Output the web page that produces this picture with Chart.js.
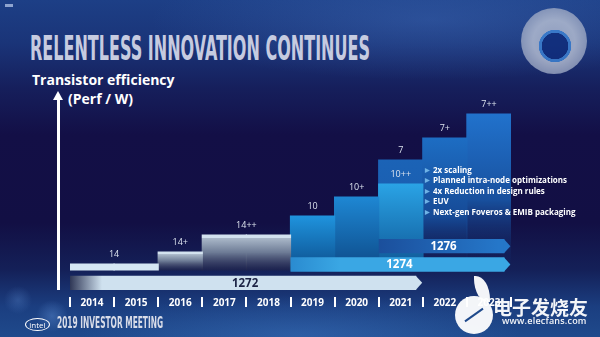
<!DOCTYPE html>
<html>
<head>
<meta charset="utf-8">
<title>Relentless Innovation Continues</title>
<style>
  html, body { margin: 0; padding: 0; }
  body {
    width: 600px; height: 337px; overflow: hidden; position: relative;
    font-family: "Open Sans", sans-serif; color: #fff;
    background:
      radial-gradient(circle at 52px 316px, rgba(110,160,230,0.35) 0, rgba(110,160,230,0) 16px),
      radial-gradient(circle at 18px 300px, rgba(110,160,230,0.25) 0, rgba(110,160,230,0) 14px),
      radial-gradient(ellipse 220px 40px at 300px 335px, rgba(70,130,210,0.35), rgba(0,0,0,0)),
      radial-gradient(ellipse 280px 60px at 430px 20px, rgba(80,130,210,0.30), rgba(0,0,0,0)),
      linear-gradient(to bottom, #1d3f86 0%, #1a3478 13%, #161f5c 26%, #130f46 40%, #120f44 66%, #142058 80%, #1b3e80 91%, #1f4a8c 100%);
  }
  canvas { position: absolute; left: 0; top: 0; }
  .abs { position: absolute; white-space: nowrap; }
  #title {
    left: 30px; top: 31px; font: bold 34px/34px "Liberation Sans Narrow", "DejaVu Sans Condensed", sans-serif;
    color: #c6cbe0; transform-origin: 0 0; display: inline-block;
  }
  #ytitle1 { left: 32px; top: 71px; font: bold 14px/18px "Open Sans", sans-serif; }
  #ytitle2 { left: 68px; top: 90px; font: bold 14px/18px "Open Sans", sans-serif; }
  #yline { left: 57px; top: 98px; width: 3px; height: 192px; background: #fff; }
  #yhead { left: 53px; top: 91px; width: 0; height: 0; border-left: 5.5px solid transparent; border-right: 5.5px solid transparent; border-bottom: 9px solid #fff; }
  #features { left: 425px; top: 165px; font: bold 8px/10.4px "Open Sans", sans-serif; color: #fff; }
  #features span { color: #6fb3e6; font-size: 6px; margin-right: 3px; vertical-align: 1px; }
  #disc {
    left: 521px; top: 8px; width: 66px; height: 66px; border-radius: 50%;
    background:
      radial-gradient(circle at 34px 38px, #0f2c7c 0, #0f2c7c 13px, #3f86d8 13.5px, #3f86d8 16px, rgba(0,0,0,0) 16.5px),
      radial-gradient(circle, #aab4cc 0, #bcc4d6 45%, #97a3c0 75%, #6f80ac 100%);
    opacity: 0.8;
  }
  #tag { left: 5px; top: 4px; width: 8px; height: 3px; background: #8fa4cf; }
  #intel { left: 25px; top: 318px; width: 23px; height: 11px; border: 1.3px solid #fff; border-radius: 50%;
    font: 8px/11px "Open Sans", sans-serif; text-align: center; color: #fff; }
  #meeting { left: 57px; top: 316px; font: bold 15px/15px "Liberation Sans Narrow", "DejaVu Sans Condensed", sans-serif;
    color: #d8dce8; transform-origin: 0 0; display: inline-block; }
  #wmlogo { left: 455px; top: 296px; width: 38px; height: 38px; border-radius: 50%; background: rgba(255,255,255,0.95); }
  #wmlogo2 { left: 474px; top: 276px; width: 16px; height: 26px; border-radius: 0 90% 0 90%; background: rgba(255,255,255,0.95); }
  #wmline { left: 463px; top: 314px; width: 22px; height: 2px; background: #1f4a8c; transform: rotate(-35deg); }
  #wmtext { left: 493px; top: 296px; font: bold 19px/22px "Noto Sans CJK SC", sans-serif; color: rgba(255,255,255,0.95); }
  #wmurl { left: 502px; top: 316px; font: 600 9px/10px "Open Sans", sans-serif; color: rgba(255,255,255,0.95); letter-spacing: 0.2px; }
</style>
</head>
<body>
  <div id="tag" class="abs"></div>
  <div id="title" class="abs">RELENTLESS INNOVATION CONTINUES</div>
  <div id="disc" class="abs"></div>
  <div id="ytitle1" class="abs">Transistor efficiency</div>
  <div id="ytitle2" class="abs">(Perf / W)</div>
  <div id="yline" class="abs"></div>
  <div id="yhead" class="abs"></div>

  <canvas id="steps" width="600" height="337"></canvas>
  <canvas id="lines" width="600" height="337"></canvas>

  <div id="features" class="abs"></div>

  <div id="intel" class="abs">intel</div>
  <div id="meeting" class="abs">2019 INVESTOR MEETING</div>
  <div id="wmlogo" class="abs"></div>
  <div id="wmlogo2" class="abs"></div>
  <div id="wmline" class="abs"></div>
  <div id="wmtext" class="abs">电子发烧友</div>
  <div id="wmurl" class="abs">www.elecfans.com</div>

  <script src="https://cdn.jsdelivr.net/npm/chart.js"></script>
  <script>
    // years on the x axis
    const years = ['2014', '2015', '2016', '2017', '2018', '2019', '2020', '2021', '2022', '2023'];

    // process nodes, relative transistor efficiency per year
    const nodeNames = ['14', '14+', '14++', '10', '10+', '10++', '7', '7+', '7++'];
    const node14   = [0.6, 0.6, null, null, null, null, null, null, null, null];
    const node14p  = [null, null, 1.8, null, null, null, null, null, null, null];
    const node14pp = [null, null, null, 3.5, 3.5, null, null, null, null, null];
    const node10   = [null, null, null, null, null, 5.4, null, null, null, null];
    const node10p  = [null, null, null, null, null, null, 7.3, null, null, null];
    const node10pp = [null, null, null, null, null, null, null, 8.6, null, null];
    const node7    = [null, null, null, null, null, null, null, 11.0, null, null];
    const node7p   = [null, null, null, null, null, null, null, null, 13.2, null];
    const node7pp  = [null, null, null, null, null, null, null, null, null, 15.6];
    const nodeData = [node14, node14p, node14pp, node10, node10p, node10pp, node7, node7p, node7pp];

    // process lines (arrows), spans in years
    const lineNames = ['1276', '1274', '1272'];
    const lineStart = [2020.5, 2018.5, 2013.5];
    const lineEnd   = [2023.35, 2023.35, 2021.35];

    const features = [
      '2x scaling',
      'Planned intra-node optimizations',
      '4x Reduction in design rules',
      'EUV',
      'Next-gen Foveros & EMIB packaging'
    ];

    // gradient stops for each node bar, top -> baseline
    const nodeStops = [
      [[0, '#d4e6f3'], [1, '#d4e6f3']],
      [[0, '#d3e2ef'], [0.12, '#d3e2ef'], [0.14, '#a9b7c8'], [0.5, '#6d7b95'], [1, 'rgba(35,38,75,0.6)']],
      [[0, '#d3e2ef'], [0.08, '#d3e2ef'], [0.1, '#a9b7c8'], [0.5, '#6d7b95'], [1, 'rgba(35,38,75,0.6)']],
      [[0, '#1f93dd'], [1, '#0c4f8e']],
      [[0, '#1e87d3'], [1, '#0d4a88']],
      [[0, '#2aa3e5'], [1, '#0e5594']],
      [[0, '#1b63b6'], [1, '#1a55a6']],
      [[0, '#1d6dc3'], [0.6, '#164a96'], [1, 'rgba(20,40,100,0)']],
      [[0, '#2172cc'], [0.55, '#18509e'], [1, 'rgba(20,40,100,0)']]
    ];
    const nodeOrder = [0, 0, 0, 0, 0, 0, 1, 0, 0];

    function vGrad(stops) {
      return (c) => {
        const chart = c.chart;
        if (!chart.chartArea || c.raw == null) return stops[0][1];
        const y = chart.scales.y;
        const g = chart.ctx.createLinearGradient(0, y.getPixelForValue(c.raw), 0, y.getPixelForValue(0));
        stops.forEach(s => g.addColorStop(s[0], s[1]));
        return g;
      };
    }

    const nodeLabels = {
      id: 'nodeLabels',
      afterDatasetsDraw(chart) {
        const ctx = chart.ctx;
        ctx.save();
        ctx.font = '9px "Open Sans"';
        ctx.fillStyle = '#dce3ee';
        ctx.textAlign = 'center';
        ctx.textBaseline = 'middle';
        chart.data.datasets.forEach((ds, i) => {
          const bars = chart.getDatasetMeta(i).data.filter((b, j) => ds.data[j] != null);
          if (!bars.length) return;
          const x = bars.reduce((s, b) => s + b.x, 0) / bars.length;
          const y = Math.min(...bars.map(b => b.y));
          ctx.fillText(ds.label, x, y - 9.5);
        });
        ctx.restore();
      }
    };

    new Chart(document.getElementById('steps'), {
      type: 'bar',
      data: {
        labels: years,
        datasets: nodeNames.map((name, i) => ({
          label: name,
          data: nodeData[i],
          order: nodeOrder[i],
          backgroundColor: vGrad(nodeStops[i]),
          borderWidth: 0,
          inflateAmount: 0.6
        }))
      },
      options: {
        responsive: false,
        animation: false,
        layout: { padding: { left: 70, right: 89, top: 90, bottom: 0 } },
        plugins: { legend: { display: false }, tooltip: { enabled: false } },
        datasets: { bar: { grouped: false, barPercentage: 1, categoryPercentage: 1 } },
        scales: {
          x: {
            grid: { display: true, drawOnChartArea: false, drawTicks: true, tickLength: 10, color: '#ffffff', lineWidth: 2, offset: true },
            border: { display: false },
            ticks: { color: '#ffffff', font: { family: 'Open Sans', size: 10, weight: 'bold' }, padding: -10, maxRotation: 0, autoSkip: false },
            afterFit(scale) { scale.height = 40; }
          },
          y: { display: false, min: -2.7, max: 18 }
        }
      },
      plugins: [nodeLabels]
    });

    // arrow styles: gradient from start over span px
    const lineStyles = [
      { from: '#1b4f9c', to: '#2577c9', span: 120, text: '#ffffff' },
      { from: '#2a8bd0', to: '#3aa7e4', span: 50, text: '#ffffff' },
      { from: '#2f3756', to: '#cfe1ef', span: 32, text: '#1b2244' }
    ];

    function hGrad(c) {
      const chart = c.chart;
      const st = lineStyles[c.dataIndex];
      if (!chart.chartArea) return st.to;
      const x0 = chart.scales.x.getPixelForValue(lineStart[c.dataIndex]);
      const g = chart.ctx.createLinearGradient(x0, 0, x0 + st.span, 0);
      g.addColorStop(0, st.from);
      g.addColorStop(1, st.to);
      return g;
    }

    const arrowTips = {
      id: 'arrowTips',
      afterDatasetsDraw(chart) {
        const ctx = chart.ctx;
        ctx.save();
        chart.getDatasetMeta(0).data.forEach((bar, i) => {
          const st = lineStyles[i];
          const h = bar.height;
          ctx.fillStyle = st.to;
          ctx.beginPath();
          ctx.moveTo(bar.x - 0.5, bar.y - h / 2);
          ctx.lineTo(bar.x + 6, bar.y);
          ctx.lineTo(bar.x - 0.5, bar.y + h / 2);
          ctx.closePath();
          ctx.fill();
          ctx.font = 'bold 11.5px "Open Sans"';
          ctx.fillStyle = st.text;
          ctx.textAlign = 'center';
          ctx.textBaseline = 'middle';
          ctx.fillText(lineNames[i], (bar.base + bar.x) / 2 + 2, bar.y + 0.5);
        });
        ctx.restore();
      }
    };

    new Chart(document.getElementById('lines'), {
      type: 'bar',
      data: {
        labels: lineNames,
        datasets: [{
          data: lineNames.map((n, i) => [lineStart[i], lineEnd[i]]),
          backgroundColor: hGrad,
          borderWidth: 0,
          barPercentage: 0.78,
          categoryPercentage: 1
        }]
      },
      options: {
        indexAxis: 'y',
        responsive: false,
        animation: false,
        layout: { padding: { left: 70, right: 89, top: 237, bottom: 45 } },
        plugins: { legend: { display: false }, tooltip: { enabled: false } },
        scales: {
          x: { type: 'linear', display: false, min: 2013.5, max: 2023.5 },
          y: { display: false }
        }
      },
      plugins: [arrowTips]
    });

    // feature bullets
    const list = document.getElementById('features');
    features.forEach(f => {
      const row = document.createElement('div');
      const b = document.createElement('span');
      b.textContent = '\u25B6';
      row.appendChild(b);
      row.appendChild(document.createTextNode(f));
      list.appendChild(row);
    });

    // squeeze condensed headline text to the slide's widths
    function fitWidth(id, w) {
      const el = document.getElementById(id);
      const r = el.getBoundingClientRect().width;
      el.style.transform = 'scaleX(' + (w / r) + ')';
    }
    fitWidth('title', 340);
    fitWidth('meeting', 106);
  </script>
</body>
</html>
